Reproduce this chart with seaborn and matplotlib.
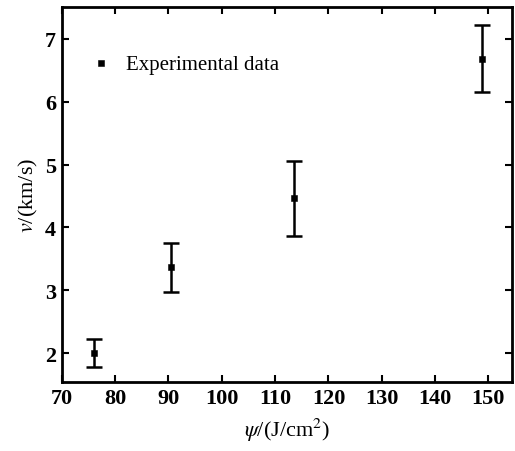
import pandas as pd
import seaborn as sns
import matplotlib.pyplot as plt

# values
fluence = [76.0, 90.4, 113.5, 148.8]     # psi, J/cm^2
velocity = [2.0, 3.37, 4.46, 6.68]      # v, km/s
err = [0.22, 0.39, 0.60, 0.53]

df = pd.DataFrame({'psi': fluence, 'v': velocity, 'err': err})

sns.set_theme(style='ticks')
plt.rcParams['font.family'] = ['Liberation Serif', 'DejaVu Serif']
plt.rcParams['mathtext.fontset'] = 'stix'
plt.rcParams['text.color'] = 'black'
plt.rcParams['axes.labelcolor'] = 'black'
plt.rcParams['xtick.color'] = 'black'
plt.rcParams['ytick.color'] = 'black'

fig, ax = plt.subplots(figsize=(5.15, 4.52), dpi=100)

ax.errorbar(df['psi'], df['v'], yerr=df['err'], fmt='none',
            ecolor='black', elinewidth=1.8, capsize=6, capthick=1.8)
sns.scatterplot(data=df, x='psi', y='v', marker='s', s=24, color='black',
                edgecolor='black', label='Experimental data', ax=ax)

ax.set_xlim(70, 154.5)
ax.set_ylim(1.54, 7.5)
ax.set_xticks(range(70, 151, 10))
ax.set_yticks(range(2, 8))
ax.tick_params(direction='in', top=True, right=True, length=5, width=1.5,
               labelsize=16, pad=4)
for lab in ax.get_xticklabels() + ax.get_yticklabels():
    lab.set_fontweight('bold')
for s in ax.spines.values():
    s.set_linewidth(2)
    s.set_color('black')

ax.set_xlabel(r'$\psi$/(J/cm$^2$)', fontsize=16, labelpad=6)
ax.set_ylabel(r'$v$/(km/s)', fontsize=16, labelpad=4)

leg = ax.legend(loc='upper left', bbox_to_anchor=(0.0, 0.925), frameon=False,
                fontsize=15, handletextpad=0.2, markerscale=1.0)

plt.subplots_adjust(left=0.12, right=0.995, top=0.982, bottom=0.152)
plt.savefig('out.png', dpi=100)
